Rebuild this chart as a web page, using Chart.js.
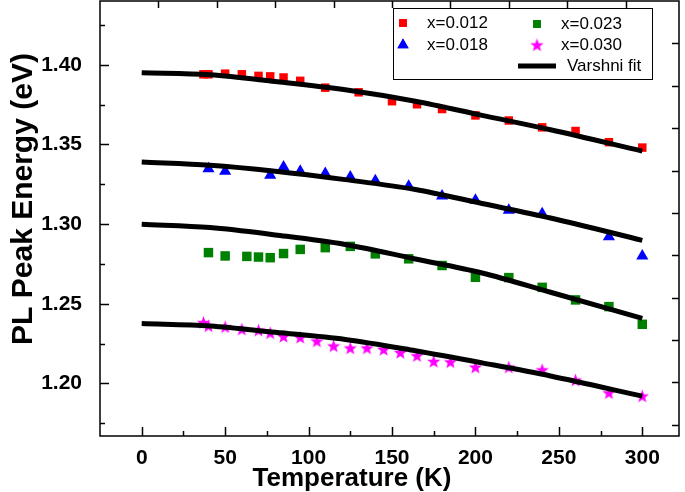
<!DOCTYPE html>
<html>
<head>
<meta charset="utf-8">
<script src="https://cdn.jsdelivr.net/npm/chart.js@4.4.1/dist/chart.umd.min.js"></script>
<style>
  html, body { margin: 0; padding: 0; background: #fff; }
  #wrap { width: 685px; height: 492px; }
</style>
</head>
<body>
<div id="wrap"><canvas id="plChart" width="685" height="492"></canvas></div>
<script>
// measured PL peak energies (eV) vs temperature (K)
const tempA = [37, 40, 50, 60, 70, 77, 85, 95, 110, 130, 150, 165, 180, 200, 220, 240, 260, 280, 300];
const peakA = [1.394, 1.394, 1.3944, 1.394, 1.393, 1.3927, 1.392, 1.3899, 1.3856, 1.3827, 1.3771, 1.3752, 1.3722, 1.3682, 1.365, 1.3607, 1.3584, 1.3514, 1.348];

const tempB = [40, 50, 77, 85, 95, 110, 125, 140, 160, 180, 200, 220, 240, 280, 300];
const peakB = [1.3348, 1.3332, 1.3307, 1.3358, 1.3332, 1.3318, 1.3295, 1.3272, 1.3237, 1.3176, 1.3149, 1.3086, 1.3065, 1.292, 1.280];

const tempC = [40, 50, 63, 70, 77, 85, 95, 110, 125, 140, 160, 180, 200, 220, 240, 260, 280, 300];
const peakC = [1.2821, 1.2800, 1.2797, 1.2793, 1.2789, 1.2815, 1.2841, 1.2852, 1.2860, 1.2813, 1.2782, 1.2740, 1.2666, 1.2664, 1.2603, 1.2524, 1.2482, 1.2371];

const tempD = [37, 40, 50, 60, 70, 77, 85, 95, 105, 115, 125, 135, 145, 155, 165, 175, 185, 200, 220, 240, 260, 280, 300];
const peakD = [1.2382, 1.2361, 1.2355, 1.234, 1.2334, 1.2317, 1.2295, 1.2289, 1.2266, 1.2235, 1.2222, 1.2222, 1.2213, 1.2194, 1.2174, 1.2138, 1.2135, 1.2102, 1.2102, 1.2085, 1.2021, 1.1941, 1.1921];

// Varshni fit curves
const fitTemp = [0, 41, 80, 122, 164, 204, 245, 300];
const fitA = [1.395, 1.3937, 1.3895, 1.3843, 1.3771, 1.3682, 1.3592, 1.3458];
const fitB = [1.3389, 1.3369, 1.3332, 1.3279, 1.3217, 1.3129, 1.3038, 1.2898];
const fitC = [1.2999, 1.2978, 1.2932, 1.2872, 1.2781, 1.2693, 1.2572, 1.2408];
const fitD = [1.2376, 1.2361, 1.2321, 1.2276, 1.2205, 1.2129, 1.2047, 1.192];

const seriesLabels = ['x=0.012', 'x=0.018', 'x=0.023', 'x=0.030'];
const fitLabel = 'Varshni fit';
const xTickLabels = [0, 50, 100, 150, 200, 250, 300];
const yTickLabels = [1.20, 1.25, 1.30, 1.35, 1.40];

const pts = (xs, ys) => xs.map((t, i) => ({ x: t, y: ys[i] }));

// filled five-point star for the x=0.030 series
function makeStar(color) {
    const c = document.createElement('canvas');
    c.width = 15; c.height = 15;
    const g = c.getContext('2d');
    g.fillStyle = color;
    g.beginPath();
    for (let k = 0; k < 10; k++) {
        const r = k % 2 === 0 ? 7 : 2.9;
        const a = -Math.PI / 2 + k * Math.PI / 5;
        const px = 7.5 + r * Math.cos(a), py = 8 + r * Math.sin(a);
        k === 0 ? g.moveTo(px, py) : g.lineTo(px, py);
    }
    g.closePath();
    g.fill();
    return c;
}
const starImg = makeStar('#ff00ff');

const fitLine = (data) => ({
    label: fitLabel, data, showLine: true, borderColor: '#000', borderWidth: 5,
    pointRadius: 0, cubicInterpolationMode: 'monotone', order: 0
});

const frame = {
    id: 'frame',
    afterDatasetsDraw(chart) {
        const { ctx, chartArea: a, scales: { x, y } } = chart;
        const seg = (x1, y1, x2, y2) => { ctx.beginPath(); ctx.moveTo(x1, y1); ctx.lineTo(x2, y2); ctx.stroke(); };
        ctx.save();
        ctx.strokeStyle = '#000';
        ctx.lineWidth = 1.5;
        ctx.strokeRect(a.left, a.top, a.width, a.height);
        x.ticks.forEach(t => {
            const px = Math.round(x.getPixelForValue(t.value)) + 0.5;
            seg(px, a.bottom, px, a.bottom - (t.label ? 9 : 5));
        });
        y.ticks.forEach(t => {
            const py = Math.round(y.getPixelForValue(t.value)) + 0.5;
            seg(a.left, py, a.left + (t.label ? 9 : 5), py);
        });
        // top and right axes carry their own tick spacing
        for (let v = x.min + 35; v < x.max; v += 35) {
            const px = Math.round(x.getPixelForValue(v)) + 0.5;
            seg(px, a.top, px, a.top + 7);
        }
        for (let v = y.max - 0.0266; v > y.min; v -= 0.0266) {
            const py = Math.round(y.getPixelForValue(v)) + 0.5;
            seg(a.right, py, a.right - 7, py);
        }
        ctx.restore();
    },
    afterDraw(chart) {
        const ctx = chart.ctx;
        ctx.save();
        // axis titles
        ctx.fillStyle = '#000';
        ctx.textAlign = 'center';
        ctx.textBaseline = 'middle';
        ctx.font = 'bold 26px "Liberation Sans", Arial, sans-serif';
        ctx.fillText('Temperature (K)', 352, 479);
        ctx.translate(24, 199);
        ctx.rotate(-Math.PI / 2);
        ctx.font = 'bold 30px "Liberation Sans", Arial, sans-serif';
        ctx.fillText('PL Peak Energy (eV)', 0, 0);
        ctx.restore();

        // legend box
        ctx.save();
        ctx.strokeStyle = '#000';
        ctx.lineWidth = 1;
        ctx.fillStyle = '#fff';
        ctx.fillRect(393.5, 8.5, 259, 71);
        ctx.strokeRect(393.5, 8.5, 259, 71);
        const ds = chart.data.datasets.filter(d => !d.showLine);
        const cells = [[403, 23], [403, 45], [537, 24], [537, 45]];
        ds.forEach((d, i) => {
            const [cx, cy] = cells[i];
            const opts = { pointStyle: d.pointStyle, radius: i === 1 ? 6.5 : 5.5, rotation: 0, borderWidth: 0 };
            ctx.fillStyle = d.backgroundColor;
            ctx.beginPath();
            Chart.helpers.drawPoint(ctx, opts, cx, cy);
            if (d.pointStyle !== starImg) ctx.fill();
            ctx.fillStyle = '#000';
            ctx.font = '17px "Liberation Sans", Arial, sans-serif';
            ctx.textAlign = 'left';
            ctx.textBaseline = 'middle';
            ctx.fillText(d.label, cx + 24, cy);
        });
        ctx.lineWidth = 5;
        ctx.beginPath(); ctx.moveTo(518, 66); ctx.lineTo(556, 66); ctx.stroke();
        ctx.fillText(fitLabel, 567, 66);
        ctx.restore();
    }
};

new Chart(document.getElementById('plChart'), {
    type: 'scatter',
    data: {
        datasets: [
            fitLine(pts(fitTemp, fitA)),
            fitLine(pts(fitTemp, fitB)),
            fitLine(pts(fitTemp, fitC)),
            fitLine(pts(fitTemp, fitD)),
            { label: seriesLabels[0], data: pts(tempA, peakA), pointStyle: 'rect', pointRadius: 6, backgroundColor: '#ff0000', borderWidth: 0, order: 1 },
            { label: seriesLabels[1], data: pts(tempB, peakB), pointStyle: 'triangle', pointRadius: 7, backgroundColor: '#0000ff', borderWidth: 0, order: 1 },
            { label: seriesLabels[2], data: pts(tempC, peakC), pointStyle: 'rect', pointRadius: 6.7, backgroundColor: '#008000', borderWidth: 0, order: 1 },
            { label: seriesLabels[3], data: pts(tempD, peakD), pointStyle: starImg, pointRadius: 7, backgroundColor: '#ff00ff', borderWidth: 0, order: 1 }
        ]
    },
    options: {
        responsive: false,
        animation: false,
        layout: { autoPadding: false, padding: { top: 1, right: 6, left: 0, bottom: 0 } },
        plugins: { legend: { display: false }, tooltip: { enabled: false } },
        scales: {
            x: {
                type: 'linear', min: -25, max: 322,
                grid: { display: false },
                border: { display: false },
                afterBuildTicks: (s) => {
                    const vals = [];
                    xTickLabels.forEach((v, i) => { vals.push(v); if (i < xTickLabels.length - 1) vals.push(v + 25); });
                    s.ticks = vals.map(v => ({ value: v }));
                },
                afterFit: (s) => { s.height = 56; s.paddingLeft = 0; s.paddingRight = 0; },
                ticks: {
                    autoSkip: false, maxRotation: 0, padding: 2, color: '#000',
                    font: { family: '"Liberation Sans", Arial, sans-serif', size: 21, weight: 'bold' },
                    callback: (v) => xTickLabels.includes(v) ? String(v) : ''
                }
            },
            y: {
                min: 1.167, max: 1.44,
                grid: { display: false },
                border: { display: false },
                afterBuildTicks: (s) => {
                    const vals = [1.175];
                    yTickLabels.forEach(v => { vals.push(v); vals.push(+(v + 0.025).toFixed(3)); });
                    s.ticks = vals.map(v => ({ value: v }));
                },
                afterFit: (s) => { s.width = 100; s.paddingTop = 0; s.paddingBottom = 0; },
                ticks: {
                    autoSkip: false, padding: 10, color: '#000',
                    font: { family: '"Liberation Sans", Arial, sans-serif', size: 21, weight: 'bold' },
                    callback: (v) => yTickLabels.some(t => Math.abs(t - v) < 1e-6) ? v.toFixed(2) : ''
                }
            }
        }
    },
    plugins: [frame]
});
</script>
</body>
</html>
